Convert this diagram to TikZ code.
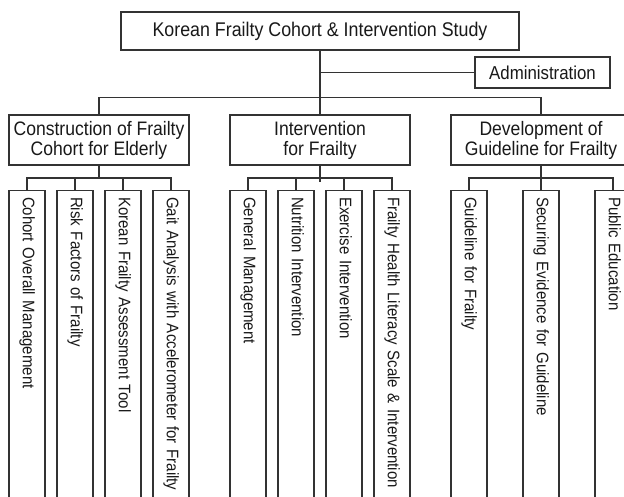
\documentclass[tikz,border=0pt]{standalone}
\usepackage{fontspec}
\setmainfont{Liberation Sans}[FakeStretch=0.9]
\definecolor{linec}{gray}{0.2}
\definecolor{textc}{gray}{0.1}
\begin{document}
\begin{tikzpicture}[x=1pt,y=-1pt,
  box/.style={draw=linec, line width=1.1pt, fill=white, inner sep=0pt, text=textc,
    font=\fontsize{19.5}{20}\selectfont, align=center},
  colbox/.style={draw=linec, line width=1.1pt, inner ysep=0pt, inner xsep=6.5pt,
    minimum height=36pt, text width=330pt, align=left, rotate=-90, anchor=west,
    text=textc, text height=12.3pt, text depth=4pt, font=\fontsize{16.7}{18}\selectfont},
  conn/.style={draw=linec, line width=1.1pt}]
\useasboundingbox (0,0) rectangle (624,497);
\clip (0,0) rectangle (624,497);
\fill[white] (0,0) rectangle (624,497);

% top and administration
\node[box, minimum width=398pt, minimum height=38pt, font=\fontsize{19.8}{20}\selectfont] (top) at (320,31) {Korean Frailty Cohort \& Intervention Study};
\node[box, minimum width=135pt, minimum height=31pt, font=\fontsize{18.7}{20}\selectfont] (admin) at (542.5,72.5) {Administration};

% level 2
\node[box, minimum width=180pt, minimum height=50pt] (g1) at (99,140) {Construction of Frailty\\Cohort for Elderly};
\node[box, minimum width=180pt, minimum height=50pt] (g2) at (320,140) {Intervention\\for Frailty};
\node[box, minimum width=180pt, minimum height=50pt] (g3) at (541,140) {Development of\\Guideline for Frailty};

% columns group 1
\node[colbox] (c11) at (27,190) {Cohort Overall Management};
\node[colbox] (c12) at (75,190) {Risk Factors of Frailty};
\node[colbox] (c13) at (123,190) {Korean Frailty Assessment Tool};
\node[colbox] (c14) at (171,190) {Gait Analysis with Accelerometer for Frailty};
% columns group 2
\node[colbox] (c21) at (248,190) {General Management};
\node[colbox] (c22) at (296,190) {Nutrition Intervention};
\node[colbox] (c23) at (344,190) {Exercise Intervention};
\node[colbox] (c24) at (392,190) {Frailty Health Literacy Scale \& Intervention};
% columns group 3
\node[colbox] (c31) at (469,190) {Guideline for Frailty};
\node[colbox] (c32) at (541,190) {Securing Evidence for Guideline};
\node[colbox] (c33) at (613,190) {Public Education};

% connectors top
\draw[conn] (top.south) -- (g2.north);
\draw[conn] (top.south |- admin.west) -- (admin.west);
\draw[conn] (g1.north) -- ++(0,-17) -| (g3.north);

% connectors group 1
\draw[conn] (g1.south) -- ++(0,13);
\draw[conn] (c11.west) -- ++(0,-12) -| (c14.west);
\draw[conn] (c12.west) -- ++(0,-12);
\draw[conn] (c13.west) -- ++(0,-12);
% connectors group 2
\draw[conn] (g2.south) -- ++(0,16);
\draw[conn] (c21.west) -- ++(0,-12) -| (c24.west);
\draw[conn] (c22.west) -- ++(0,-12);
\draw[conn] (c23.west) -- ++(0,-12);
% connectors group 3
\draw[conn] (g3.south) -- (c32.west);
\draw[conn] (c31.west) -- ++(0,-12) -| (c33.west);
\end{tikzpicture}
\end{document}
